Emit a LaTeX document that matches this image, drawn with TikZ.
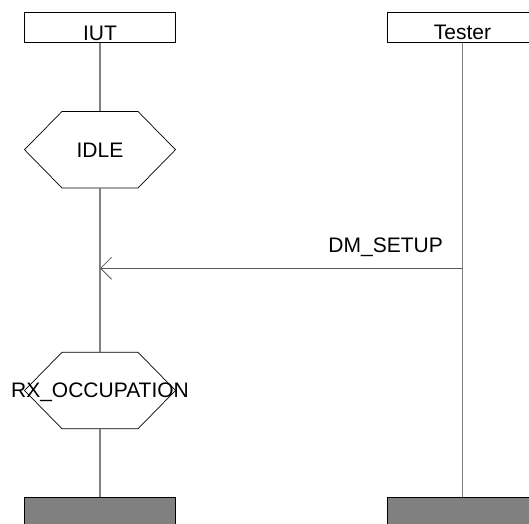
\documentclass[tikz,border=0pt]{standalone}
\usepackage{fontspec}
\setmainfont{Liberation Sans}
\usetikzlibrary{arrows.meta}
\begin{document}
\begin{tikzpicture}[x=1pt,y=-1pt,
  font=\fontsize{21}{25}\selectfont,
  lifebox/.style={draw=black,line width=0.8pt,fill=white,minimum width=151pt,minimum height=30.5pt,inner sep=0pt,outer sep=0pt},
  endbox/.style={draw=black,line width=0.8pt,fill=black!50,minimum width=151pt,minimum height=30pt,inner sep=0pt,outer sep=0pt},
  hexnode/.style={minimum width=151pt,minimum height=76.5pt,inner sep=0pt,outer sep=0pt},
  hexline/.style={draw=black,line width=0.7pt,fill=white},
  lifeline/.style={draw=black!50,line width=1.3pt},
  msg/.style={draw=black!65,line width=0.8pt,-{Straight Barb[length=11pt,width=22pt,line width=0.8pt]}}]
\useasboundingbox (0,0) rectangle (529,523);
% instance heads
\node[lifebox] (iut) at (100,27.3) {};
\node[anchor=base] (iutlabel) at ([yshift=2.5pt]iut.south) {IUT};
\node[lifebox] (tester) at (462.5,27.3) {};
\node[anchor=base] (testerlabel) at ([yshift=2.7pt]tester.south) {Tester};
% instance ends
\node[endbox] (iutend) at (100,512) {};
\node[endbox] (testerend) at (462.5,512) {};
% condition hexagons
\node[hexnode] (idle) at (100,149.7) {};
\node[hexnode] (rx) at (100,390.5) {};
\foreach \h in {idle,rx}{
  \draw[hexline] ([xshift=37.5pt]\h.north west) -- ([xshift=-37.5pt]\h.north east) -- (\h.east)
    -- ([xshift=-37.5pt]\h.south east) -- ([xshift=37.5pt]\h.south west) -- (\h.west) -- cycle;
}
\node (idletext) at ([yshift=-1pt]idle.center) {IDLE};
\node (rxtext) at ([yshift=-2pt]rx.center) {RX\_OCCUPATION};
% lifelines
\draw[lifeline] (iut.south) -- (idle.north);
\draw[lifeline] (idle.south) -- (rx.north);
\draw[lifeline] (rx.south) -- (iutend.north);
\draw[lifeline] (tester.south) -- (testerend.north);
% message
\coordinate (m1) at (0,268.3);
\draw[msg] (tester.south |- m1) -- (iut.south |- m1);
\node[anchor=base east,inner sep=0pt] (m1label) at (443,252) {DM\_SETUP};
\end{tikzpicture}
\end{document}
